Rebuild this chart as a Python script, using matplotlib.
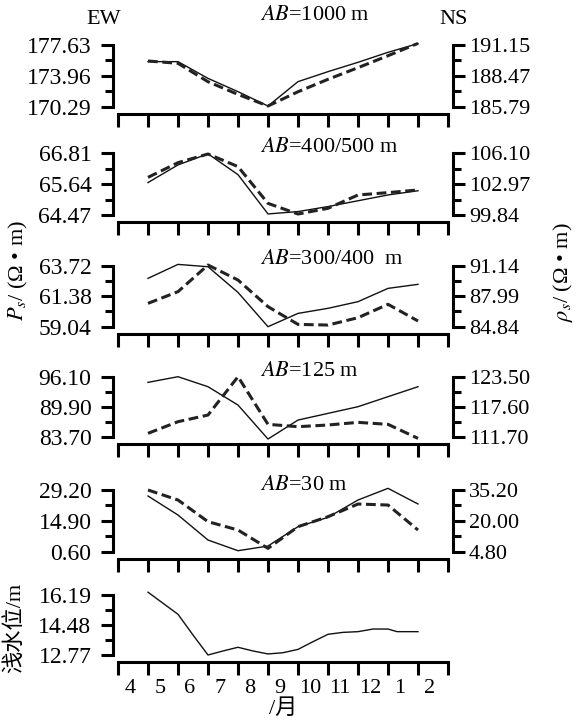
import matplotlib
matplotlib.use('Agg')
import matplotlib.pyplot as plt

plt.rcParams['font.family'] = ['Liberation Serif', 'Noto Sans CJK SC']
plt.rcParams['mathtext.fontset'] = 'stix'

# 横軸: 月
months = ['4', '5', '6', '7', '8', '9', '10', '11', '12', '1', '2']
x = [1, 2, 3, 4, 5, 6, 7, 8, 9, 10]

# AB=1000 m
ew_1000 = [175.65, 175.65, 173.66, 172.08, 170.37, 173.27, 174.46, 175.57, 176.76, 177.80]
ns_1000 = [189.76, 189.56, 187.96, 186.86, 185.85, 187.09, 188.17, 189.18, 190.22, 191.29]
# AB=400/500 m
ew_400 = [65.70, 66.37, 66.79, 66.00, 64.51, 64.60, 64.79, 65.01, 65.23, 65.39]
ns_400 = [103.66, 105.15, 106.03, 104.75, 101.02, 99.94, 100.52, 101.87, 102.11, 102.38]
# AB=300/400 m
ew_300 = [62.75, 63.82, 63.64, 61.67, 59.04, 60.06, 60.45, 60.96, 61.98, 62.29]
ns_300 = [87.25, 88.46, 91.21, 89.66, 86.91, 85.08, 85.01, 85.77, 87.15, 85.43]
# AB=125 m
ew_125 = [94.93, 96.10, 94.03, 90.24, 83.22, 87.14, 88.52, 89.90, 91.97, 94.03]
ns_125 = [112.36, 114.65, 115.96, 123.50, 114.13, 113.67, 114.00, 114.52, 114.13, 111.37]
# AB=30 m
ew_30 = [26.42, 17.60, 6.01, 1.06, 3.23, 12.20, 16.52, 24.56, 29.97, 22.71]
ns_30 = [35.20, 30.27, 19.59, 15.48, 6.44, 17.12, 22.05, 28.29, 27.80, 15.48]
# 浅水位
x_wl = [1, 1.5, 2, 2.5, 3, 3.5, 4, 4.5, 5, 5.5, 6, 6.5, 7, 7.5, 8, 8.5, 9, 9.3, 10]
wl = [16.35, 15.72, 15.09, 13.91, 12.77, 13.00, 13.21, 13.00, 12.83, 12.90,
      13.09, 13.53, 13.95, 14.06, 14.10, 14.25, 14.25, 14.10, 14.10]

titles = ['1000 m', '400/500 m', '300/400  m', '125 m', '30 m']
ew_list = [ew_1000, ew_400, ew_300, ew_125, ew_30]
ns_list = [ns_1000, ns_400, ns_300, ns_125, ns_30]
left_ticks = [['170.29', '173.96', '177.63'], ['64.47', '65.64', '66.81'],
              ['59.04', '61.38', '63.72'], ['83.70', '89.90', '96.10'],
              ['0.60', '14.90', '29.20'], ['12.77', '14.48', '16.19']]
right_ticks = [['185.79', '188.47', '191.15'], ['99.84', '102.97', '106.10'],
               ['84.84', '87.99', '91.14'], ['111.70', '117.60', '123.50'],
               ['4.80', '20.00', '35.20']]

# パネル位置 (px): 上端, 下端
rows = [(45, 106.7), (153.3, 215), (265.7, 326.7), (376.7, 436.7), (490, 551.7), (595, 655)]
title_y = [16, 148, 259, 372, 485]
W, H = 576, 726

fig = plt.figure(figsize=(W / 100, H / 100), dpi=100)


def style_y(ax, ticks, side):
    vals = [float(t) for t in ticks]
    lo, hi = vals[0], vals[2]
    q = (hi - lo) / 4
    ax.set_ylim(lo, hi)
    ax.set_yticks(vals, ticks)
    ax.set_yticks([lo + q, hi - q], minor=True)
    ax.spines[side].set_position(('outward', 3.6))
    ax.spines[side].set_linewidth(2.2)
    ax.tick_params(axis='y', which='major', direction='out', length=8.5, width=2.2,
                   labelsize=17 if side == 'left' else 16, pad=3 if side == 'right' else 7)
    ax.tick_params(axis='y', which='minor', direction='out', length=6, width=2.2)


for i, (top, bot) in enumerate(rows):
    ax = fig.add_axes([118 / W, 1 - bot / H, 330 / W, (bot - top) / H])
    ax.set_xlim(0, 11)
    ax.set_xticks(range(12))
    ax.tick_params(axis='x', which='major', direction='out', length=9.5, width=2.2,
                   labelbottom=False)
    for s in ['top', 'right']:
        ax.spines[s].set_visible(False)
    ax.spines['bottom'].set_position(('outward', 5))
    ax.spines['bottom'].set_linewidth(2.2)
    style_y(ax, left_ticks[i], 'left')

    if i < 5:
        ax.plot(x, ew_list[i], color='#111111', lw=1.0, clip_on=False)
        ax2 = ax.twinx()
        for s in ['top', 'left', 'bottom']:
            ax2.spines[s].set_visible(False)
        style_y(ax2, right_ticks[i], 'right')
        ax2.plot(x, ns_list[i], color='#222222', lw=2.2, dashes=(3.2, 1.5), clip_on=False)
        fig.text(260 / W, 1 - title_y[i] / H, '$AB$=' + titles[i], fontsize=16,
                 ha='left', va='center')
    else:
        ax.plot(x_wl, wl, color='#111111', lw=1.0, clip_on=False)
        ax.set_xticks([k + 0.4 for k in range(11)], months, minor=True)
        ax.tick_params(axis='x', which='minor', length=0, labelsize=16, pad=12)
        ax.set_xlabel('/月', fontsize=16, labelpad=1)

fig.text(104 / W, 1 - 19 / H, 'EW', fontsize=16, ha='center', va='center')
fig.text(454 / W, 1 - 19 / H, 'NS', fontsize=16, ha='center', va='center')
fig.text(18 / W, 1 - 270 / H, '$P_s$/ (Ω • m)', fontsize=16, rotation=90,
         ha='center', va='center')
fig.text(563 / W, 1 - 272 / H, r'$\rho_s$/ (Ω • m)', fontsize=16, rotation=90,
         ha='center', va='center')
fig.text(15 / W, 1 - 628 / H, '浅水位/m', fontsize=16, rotation=90,
         ha='center', va='center')

fig.savefig('out.png', dpi=100)
